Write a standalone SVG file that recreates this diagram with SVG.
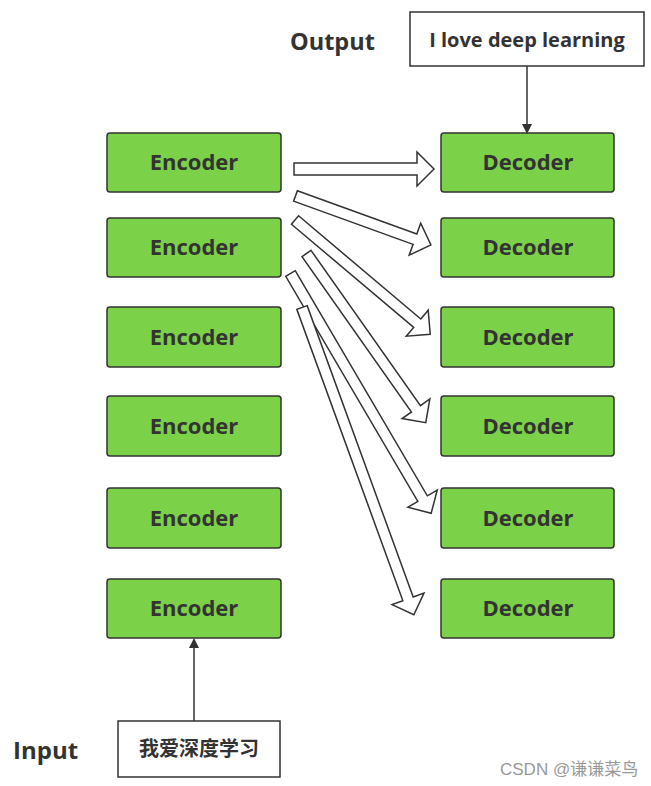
<svg xmlns="http://www.w3.org/2000/svg" width="651" height="786" viewBox="0 0 651 786">
<defs>
<style>
.box{fill:#7BD148;stroke:#333;stroke-width:1.5}
.wbox{fill:#fff;stroke:#333;stroke-width:1.5}
.t{font-family:"Open Sans","Noto Sans",sans-serif;font-weight:bold;font-size:22px;fill:#333;text-anchor:middle}
.lbl{font-family:"Open Sans","Noto Sans",sans-serif;font-weight:bold;font-size:23.5px;fill:#333}
.cjk{font-family:"Noto Sans CJK SC",sans-serif;font-weight:bold;font-size:20px;fill:#333;text-anchor:middle}
.blk{fill:#fff;stroke:#333;stroke-width:1.5;stroke-linejoin:miter}
.ln{stroke:#333;stroke-width:1.5;fill:none}
</style>
<marker id="ah" markerWidth="10" markerHeight="10" refX="8" refY="5" orient="auto" markerUnits="userSpaceOnUse">
<path d="M0,0 L10,5 L0,10 z" fill="#333"/>
</marker>
</defs>
<rect width="651" height="786" fill="#fff"/>
<text class="lbl" x="290" y="50">Output</text>
<text class="lbl" x="13" y="759" style="font-size:24px">Input</text>
<g id="output"><rect class="wbox" x="410" y="12" width="234" height="54"/><text class="t" x="527" y="47" style="font-size:20px">I love deep learning</text></g>
<g id="input"><rect class="wbox" x="118" y="721" width="162" height="56"/><text class="cjk" x="199" y="756">我爱深度学习</text></g>
<g id="enc1"><rect class="box" x="107" y="133" width="174" height="59" rx="3"/><text class="t" x="194" y="170">Encoder</text></g>
<g id="enc2"><rect class="box" x="107" y="218" width="174" height="59" rx="3"/><text class="t" x="194" y="255">Encoder</text></g>
<g id="enc3"><rect class="box" x="107" y="307" width="174" height="60" rx="3"/><text class="t" x="194" y="345">Encoder</text></g>
<g id="enc4"><rect class="box" x="107" y="396" width="174" height="60" rx="3"/><text class="t" x="194" y="434">Encoder</text></g>
<g id="enc5"><rect class="box" x="107" y="488" width="174" height="60" rx="3"/><text class="t" x="194" y="526">Encoder</text></g>
<g id="enc6"><rect class="box" x="107" y="579" width="174" height="59" rx="3"/><text class="t" x="194" y="616">Encoder</text></g>
<g id="dec1"><rect class="box" x="441" y="133" width="173" height="59" rx="3"/><text class="t" x="528" y="170">Decoder</text></g>
<g id="dec2"><rect class="box" x="441" y="218" width="173" height="59" rx="3"/><text class="t" x="528" y="255">Decoder</text></g>
<g id="dec3"><rect class="box" x="441" y="307" width="173" height="60" rx="3"/><text class="t" x="528" y="345">Decoder</text></g>
<g id="dec4"><rect class="box" x="441" y="396" width="173" height="60" rx="3"/><text class="t" x="528" y="434">Decoder</text></g>
<g id="dec5"><rect class="box" x="441" y="488" width="173" height="60" rx="3"/><text class="t" x="528" y="526">Decoder</text></g>
<g id="dec6"><rect class="box" x="441" y="579" width="173" height="59" rx="3"/><text class="t" x="528" y="616">Decoder</text></g>
<g id="connectors">
<line class="ln" x1="527" y1="66" x2="527" y2="132" marker-end="url(#ah)"/>
<line class="ln" x1="194" y1="721" x2="194" y2="640" marker-end="url(#ah)"/>
<polygon class="blk" transform="translate(294,169)" points="0,-6 123,-6 123,-17 140,0 123,17 123,6 0,6"/>
<polygon class="blk" transform="translate(295.5,196) rotate(19.88)" points="0,-5.5 127,-5.5 127,-17 144,0 127,17 127,5.5 0,5.5"/>
<polygon class="blk" transform="translate(295,220) rotate(40.18)" points="0,-5.5 160,-5.5 160,-17 177,0 160,17 160,5.5 0,5.5"/>
<polygon class="blk" transform="translate(306.5,253.5) rotate(54.82)" points="0,-5.5 190,-5.5 190,-17 207,0 190,17 190,5.5 0,5.5"/>
<polygon class="blk" transform="translate(290.5,273.5) rotate(59.6)" points="0,-5.5 261,-5.5 261,-17 278,0 261,17 261,5.5 0,5.5"/>
<polygon class="blk" transform="translate(302,307.5) rotate(70)" points="0,-5.5 310,-5.5 310,-17 327,0 310,17 310,5.5 0,5.5"/>
</g>
<text x="500" y="775" style="font-family:'Liberation Sans','Noto Sans CJK SC',sans-serif;font-size:17px;fill:#999">CSDN @谦谦菜鸟</text>
</svg>
